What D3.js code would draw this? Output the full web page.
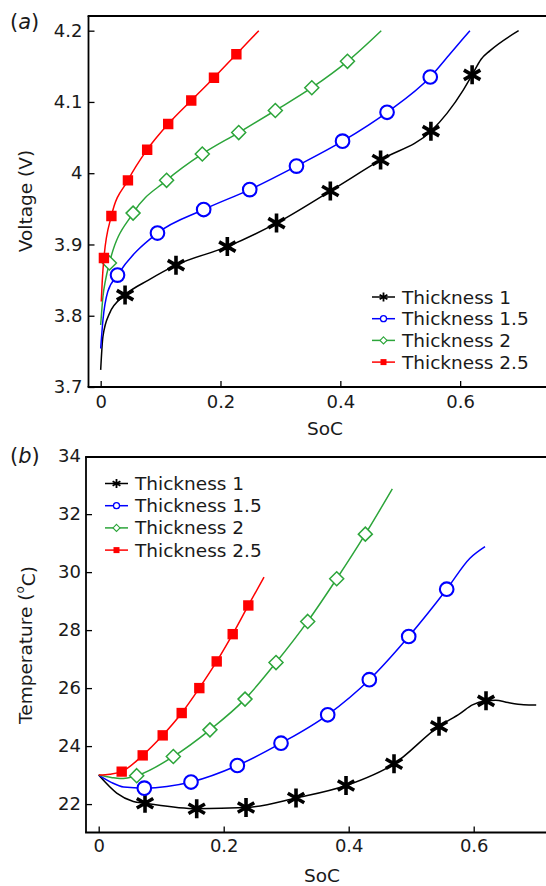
<!DOCTYPE html>
<html>
<head>
<meta charset="utf-8">
<script src="https://cdn.jsdelivr.net/npm/d3@7"></script>
<style>
  html, body { margin: 0; padding: 0; background: #fff; }
  svg { display: block; font-family: "DejaVu Sans", sans-serif; }
</style>
</head>
<body>
<svg id="chart" width="546" height="886"></svg>
<script>
// ---------- data ----------
const seriesNames = ["Thickness 1", "Thickness 1.5", "Thickness 2", "Thickness 2.5"];
const seriesColors = ["#000000", "#0000ff", "#2ca53a", "#ff0000"];
const markerKinds = ["asterisk", "circle", "diamond", "square"];

// (a) voltage vs SoC — curve samples
const vSoc1 = [0, 0.0038, 0.0146, 0.0407, 0.0797, 0.1257, 0.2114, 0.2935, 0.3833, 0.4672, 0.5512, 0.578, 0.6054, 0.62, 0.635, 0.65, 0.6976];
const vVal1 = [3.724, 3.771, 3.803, 3.829, 3.85, 3.871, 3.897, 3.930, 3.975, 4.0186, 4.059, 4.084, 4.117, 4.138, 4.160, 4.172, 4.2];
const vSoc15 = [0, 0.0038, 0.0119, 0.0281, 0.0948, 0.1719, 0.2488, 0.3268, 0.4037, 0.478, 0.5501, 0.5837, 0.6163];
const vVal15 = [3.754, 3.794, 3.834, 3.857, 3.916, 3.949, 3.977, 4.010, 4.045, 4.0855, 4.135, 4.168, 4.2];
const vSoc2 = [0, 0.0038, 0.0081, 0.0146, 0.0541, 0.110, 0.1696, 0.2304, 0.2915, 0.3524, 0.4119, 0.4683];
const vVal2 = [3.787, 3.827, 3.85, 3.874, 3.944, 3.990, 4.027, 4.057, 4.088, 4.120, 4.157, 4.2];
const vSoc25 = [0.001, 0.0027, 0.0054, 0.0179, 0.0455, 0.0776, 0.1127, 0.1512, 0.1891, 0.2265, 0.2639];
const vVal25 = [3.82, 3.85, 3.881, 3.940, 3.990, 4.033, 4.069, 4.102, 4.134, 4.167, 4.2];

// (a) marker positions
const vMkSoc1 = [0.0407, 0.1257, 0.2114, 0.2935, 0.3833, 0.4672, 0.5512, 0.62];
const vMkVal1 = [3.829, 3.871, 3.897, 3.930, 3.975, 4.0186, 4.059, 4.138];
const vMkSoc15 = [0.0281, 0.0948, 0.1719, 0.2488, 0.3268, 0.4037, 0.478, 0.5501];
const vMkVal15 = [3.857, 3.916, 3.949, 3.977, 4.010, 4.045, 4.0855, 4.135];
const vMkSoc2 = [0.0146, 0.0541, 0.110, 0.1696, 0.2304, 0.2915, 0.3524, 0.4119];
const vMkVal2 = [3.874, 3.944, 3.990, 4.027, 4.057, 4.088, 4.120, 4.157];
const vMkSoc25 = [0.0054, 0.0179, 0.0455, 0.0776, 0.1127, 0.1512, 0.1891, 0.2265];
const vMkVal25 = [3.881, 3.940, 3.990, 4.033, 4.069, 4.102, 4.134, 4.167];

// (b) temperature vs SoC — curve samples
const tSoc1 = [0, 0.0288, 0.0554, 0.0741, 0.1568, 0.2357, 0.3157, 0.3957, 0.4725, 0.5445, 0.578, 0.598, 0.6197, 0.635, 0.655, 0.68, 0.70];
const tVal1 = [23, 22.38, 22.09, 22.03, 21.84, 21.88, 22.21, 22.64, 23.39, 24.68, 25.12, 25.42, 25.56, 25.58, 25.5, 25.43, 25.42];
const tSoc15 = [0, 0.02, 0.04, 0.073, 0.1477, 0.2218, 0.2917, 0.3664, 0.433, 0.496, 0.5568, 0.594, 0.6181];
const tVal15 = [23, 22.75, 22.59, 22.55, 22.76, 23.33, 24.10, 25.08, 26.29, 27.78, 29.41, 30.48, 30.88];
const tSoc2 = [0, 0.02, 0.034, 0.0608, 0.1194, 0.178, 0.2341, 0.2837, 0.3344, 0.3808, 0.4266, 0.4698];
const tVal2 = [23, 22.92, 22.88, 22.98, 23.64, 24.56, 25.62, 26.88, 28.30, 29.77, 31.31, 32.87];
const tSoc25 = [0, 0.018, 0.0368, 0.0704, 0.1024, 0.1328, 0.161, 0.1888, 0.2144, 0.2394, 0.2645];
const tVal25 = [23, 23.03, 23.12, 23.68, 24.37, 25.14, 26.0, 26.92, 27.86, 28.85, 29.83];

// (b) marker positions
const tMkSoc1 = [0.0741, 0.1568, 0.2357, 0.3157, 0.3957, 0.4725, 0.5445, 0.6197];
const tMkVal1 = [22.03, 21.84, 21.88, 22.21, 22.64, 23.39, 24.68, 25.56];
const tMkSoc15 = [0.073, 0.1477, 0.2218, 0.2917, 0.3664, 0.433, 0.496, 0.5568];
const tMkVal15 = [22.55, 22.76, 23.33, 24.10, 25.08, 26.29, 27.78, 29.41];
const tMkSoc2 = [0.0608, 0.1194, 0.178, 0.2341, 0.2837, 0.3344, 0.3808, 0.4266];
const tMkVal2 = [22.98, 23.64, 24.56, 25.62, 26.88, 28.30, 29.77, 31.31];
const tMkSoc25 = [0.0368, 0.0704, 0.1024, 0.1328, 0.161, 0.1888, 0.2144, 0.2394];
const tMkVal25 = [23.12, 23.68, 24.37, 25.14, 26.0, 26.92, 27.86, 28.85];

// ticks
const socTicks = [0, 0.2, 0.4, 0.6];
const socTickLabels = ["0", "0.2", "0.4", "0.6"];
const voltTicks = [3.7, 3.8, 3.9, 4.0, 4.1, 4.2];
const voltTickLabels = ["3.7", "3.8", "3.9", "4", "4.1", "4.2"];
const tempTicks = [22, 24, 26, 28, 30, 32, 34];
const tempTickLabels = ["22", "24", "26", "28", "30", "32", "34"];

// ---------- drawing ----------
const svg = d3.select("#chart");
const zip = (xs, ys) => xs.map((x, i) => [x, ys[i]]);

function markerPath(kind, s) {
  // s: half-size in px
  if (kind === "asterisk") {
    const p = d3.path();
    [90, 30, 150].forEach(a => {
      const r = a * Math.PI / 180, dx = Math.cos(r) * s, dy = Math.sin(r) * s;
      p.moveTo(-dx, -dy); p.lineTo(dx, dy);
    });
    return p.toString();
  }
  if (kind === "circle") {
    const p = d3.path(); p.arc(0, 0, s, 0, 2 * Math.PI); p.closePath(); return p.toString();
  }
  if (kind === "diamond") return `M0,${-s}L${s},0L0,${s}L${-s},0Z`;
  return `M${-s},${-s}H${s}V${s}H${-s}Z`;
}

function drawMarker(g, kind, color, x, y, big) {
  const sizes = big
    ? { asterisk: 9.5, circle: 6.8, diamond: 7, square: 5.2 }
    : { asterisk: 4.5, circle: 3, diamond: 3.5, square: 3 };
  const widths = big
    ? { asterisk: 3.6, circle: 2.1, diamond: 1.5, square: 0 }
    : { asterisk: 1.8, circle: 1.3, diamond: 1.1, square: 0 };
  const path = g.append("path")
    .attr("d", markerPath(kind, sizes[kind]))
    .attr("transform", `translate(${x},${y})`);
  if (kind === "square") path.attr("fill", color);
  else if (kind === "asterisk") path.attr("fill", "none").attr("stroke", color).attr("stroke-width", widths[kind]).attr("stroke-linecap", "butt");
  else path.attr("fill", "#fff").attr("stroke", color).attr("stroke-width", widths[kind]);
}

function drawPanel(cfg) {
  const g = svg.append("g");
  const x = d3.scaleLinear().domain(cfg.xDomain).range([cfg.left, cfg.right]);
  const y = d3.scaleLinear().domain(cfg.yDomain).range([cfg.bottom, cfg.top]);

  const clipId = "clip" + cfg.id;
  svg.append("clipPath").attr("id", clipId).append("rect")
    .attr("x", cfg.left).attr("y", cfg.top - 20)
    .attr("width", cfg.right - cfg.left).attr("height", cfg.bottom - cfg.top + 20);

  // axes with inward ticks
  const xAxis = d3.axisBottom(x).tickValues(cfg.xTicks)
    .tickFormat((d, i) => cfg.xTickLabels[i]).tickSizeInner(-6).tickSizeOuter(0).tickPadding(cfg.xPad);
  const yAxis = d3.axisLeft(y).tickValues(cfg.yTicks)
    .tickFormat((d, i) => cfg.yTickLabels[i]).tickSizeInner(-6).tickSizeOuter(0).tickPadding(cfg.yPad);

  const gx = g.append("g").attr("transform", `translate(0,${cfg.bottom})`).call(xAxis);
  const gy = g.append("g").attr("transform", `translate(${cfg.left},0)`).call(yAxis);
  [gx, gy].forEach(a => {
    a.select(".domain").remove();
    a.selectAll(".tick line").attr("stroke", "#000").attr("stroke-width", 1.3);
    a.selectAll(".tick text").attr("fill", "#1a1a1a").style("font-size", "18px").style("font-family", "DejaVu Sans");
  });

  // frame: left, top, bottom
  const frame = g.append("g").attr("stroke", "#000").attr("stroke-width", 1.8).attr("fill", "none");
  frame.append("line").attr("x1", cfg.left).attr("x2", cfg.left).attr("y1", cfg.top).attr("y2", cfg.bottom);
  frame.append("line").attr("x1", cfg.left - 0.9).attr("x2", cfg.right).attr("y1", cfg.top).attr("y2", cfg.top);
  frame.append("line").attr("x1", cfg.left - 0.9).attr("x2", cfg.right).attr("y1", cfg.bottom).attr("y2", cfg.bottom);

  // series
  const line = d3.line().x(d => x(d[0])).y(d => y(d[1])).curve(d3.curveMonotoneX);
  const plot = g.append("g").attr("clip-path", `url(#${clipId})`);
  cfg.series.forEach((s, i) => {
    plot.append("path").datum(s.pts).attr("d", line)
      .attr("fill", "none").attr("stroke", seriesColors[i]).attr("stroke-width", 1.5);
    s.marks.forEach(m => drawMarker(plot, markerKinds[i], seriesColors[i], x(m[0]), y(m[1]), true));
  });

  // axis titles
  g.append("text").attr("x", cfg.xLabelX).attr("y", cfg.xLabelY)
    .attr("text-anchor", "middle").attr("dominant-baseline", "central")
    .style("font-size", "18.5px").attr("fill", "#1a1a1a").text("SoC");
  const yt = g.append("text")
    .attr("transform", `translate(${cfg.yLabelX},${cfg.yLabelY}) rotate(-90)`)
    .attr("text-anchor", "middle").attr("dominant-baseline", "central")
    .style("font-size", "18.5px").attr("fill", "#1a1a1a");
  cfg.yLabel(yt);

  // panel letter
  const pl = g.append("text").attr("x", 10).attr("y", cfg.letterY)
    .attr("dominant-baseline", "central").style("font-size", "21px").attr("fill", "#1a1a1a");
  pl.append("tspan").text("(");
  pl.append("tspan").style("font-style", "italic").text(cfg.letter);
  pl.append("tspan").text(")");

  // legend
  const lg = g.append("g");
  seriesNames.forEach((name, i) => {
    const ly = cfg.legendY + i * cfg.legendStep;
    lg.append("line").attr("x1", cfg.legendX).attr("x2", cfg.legendX + 23)
      .attr("y1", ly).attr("y2", ly).attr("stroke", seriesColors[i]).attr("stroke-width", 1.5);
    drawMarker(lg, markerKinds[i], seriesColors[i], cfg.legendX + 11.5, ly, false);
    lg.append("text").attr("x", cfg.legendX + 30).attr("y", ly)
      .attr("dominant-baseline", "central").style("font-size", "18.5px").attr("fill", "#1a1a1a").text(name);
  });
}

drawPanel({
  id: "a", letter: "a", letterY: 22,
  left: 88.5, right: 560, top: 16, bottom: 387,
  xDomain: [-12.5 / 615, 471.5 / 615], yDomain: [3.7, 4.2206],
  xTicks: socTicks, xTickLabels: socTickLabels, xPad: 8,
  yTicks: voltTicks, yTickLabels: voltTickLabels, yPad: 6,
  xLabelX: 325, xLabelY: 428, yLabelX: 25, yLabelY: 201,
  yLabel: t => t.text("Voltage (V)"),
  legendX: 372, legendY: 297, legendStep: 21.7,
  series: [
    { pts: zip(vSoc1, vVal1), marks: zip(vMkSoc1, vMkVal1) },
    { pts: zip(vSoc15, vVal15), marks: zip(vMkSoc15, vMkVal15) },
    { pts: zip(vSoc2, vVal2), marks: zip(vMkSoc2, vMkVal2) },
    { pts: zip(vSoc25, vVal25), marks: zip(vMkSoc25, vMkVal25) }
  ]
});

drawPanel({
  id: "b", letter: "b", letterY: 456,
  left: 86, right: 560, top: 457, bottom: 832.5,
  xDomain: [-12.7 / 625, 461.3 / 625], yDomain: [21.02, 33.97],
  xTicks: socTicks, xTickLabels: socTickLabels, xPad: 7,
  yTicks: tempTicks, yTickLabels: tempTickLabels, yPad: 5,
  xLabelX: 322, xLabelY: 875, yLabelX: 25, yLabelY: 645,
  yLabel: t => {
    t.append("tspan").text("Temperature (");
    t.append("tspan").attr("dy", "-0.4em").style("font-size", "12px").text("o");
    t.append("tspan").attr("dy", "0.4em").text("C)");
  },
  legendX: 105, legendY: 483.5, legendStep: 22.2,
  series: [
    { pts: zip(tSoc1, tVal1), marks: zip(tMkSoc1, tMkVal1) },
    { pts: zip(tSoc15, tVal15), marks: zip(tMkSoc15, tMkVal15) },
    { pts: zip(tSoc2, tVal2), marks: zip(tMkSoc2, tMkVal2) },
    { pts: zip(tSoc25, tVal25), marks: zip(tMkSoc25, tMkVal25) }
  ]
});
</script>
</body>
</html>
